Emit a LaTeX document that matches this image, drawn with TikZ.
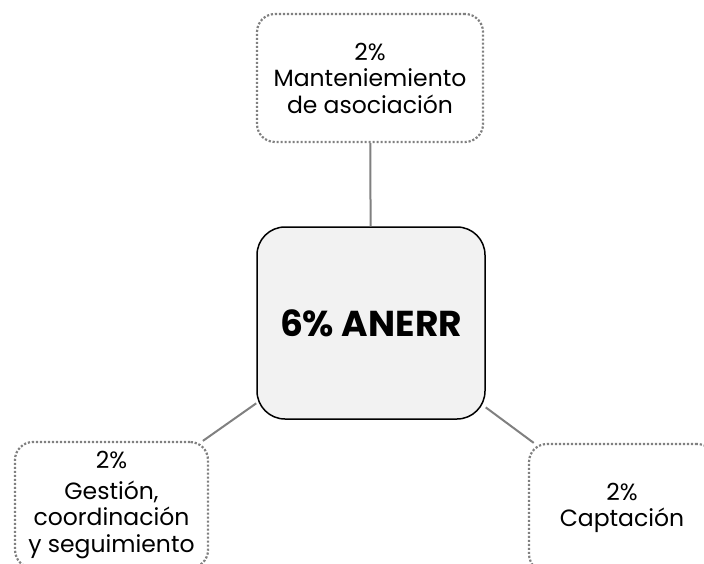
\documentclass[tikz,border=0pt]{standalone}
\usepackage{fontspec}
\setmainfont{Poppins}

\begin{document}
\begin{tikzpicture}[
  x=1pt, y=-1pt,
  hub/.style={draw=black, line width=1.5pt, rounded corners=28pt, fill=black!5,
    minimum width=228pt, minimum height=192pt, font=\fontsize{36}{40}\selectfont\bfseries},
  leaf/.style={draw=black!50, line width=2.2pt, dash pattern=on 2.2pt off 1.8pt, rounded corners=18pt,
    align=center, font=\fontsize{23.5}{26.5}\selectfont},
  link/.style={draw=black!50, line width=2pt},
  every node/.style={inner sep=0pt}]

% Frame of the picture, the outer boxes run past it
\useasboundingbox (0,0) rectangle (704,563);
\clip (0,0) rectangle (704,563);

% Place the boxes at their coordinates
\node[hub] (anerr) at (371,323) {6\% ANERR};
\node[leaf, minimum width=226pt, minimum height=128pt] (mantenimiento) at (370,78)
  {2\%\\ Manteniemiento\\ de asociación};
\node[leaf, minimum width=193pt, minimum height=126pt] (gestion) at (111.5,505)
  {2\%\\[4pt] Gestión,\\ coordinación\\ y seguimiento};
\node[leaf, minimum width=186pt, minimum height=128pt] (captacion) at (622,508)
  {2\%\\ Captación};

% Connect the outer boxes to the centre
\draw [link] (mantenimiento) -- (anerr);
\draw [link] (anerr) -- (gestion);
\draw [link] (anerr) -- (captacion);

\end{tikzpicture}
\end{document}
